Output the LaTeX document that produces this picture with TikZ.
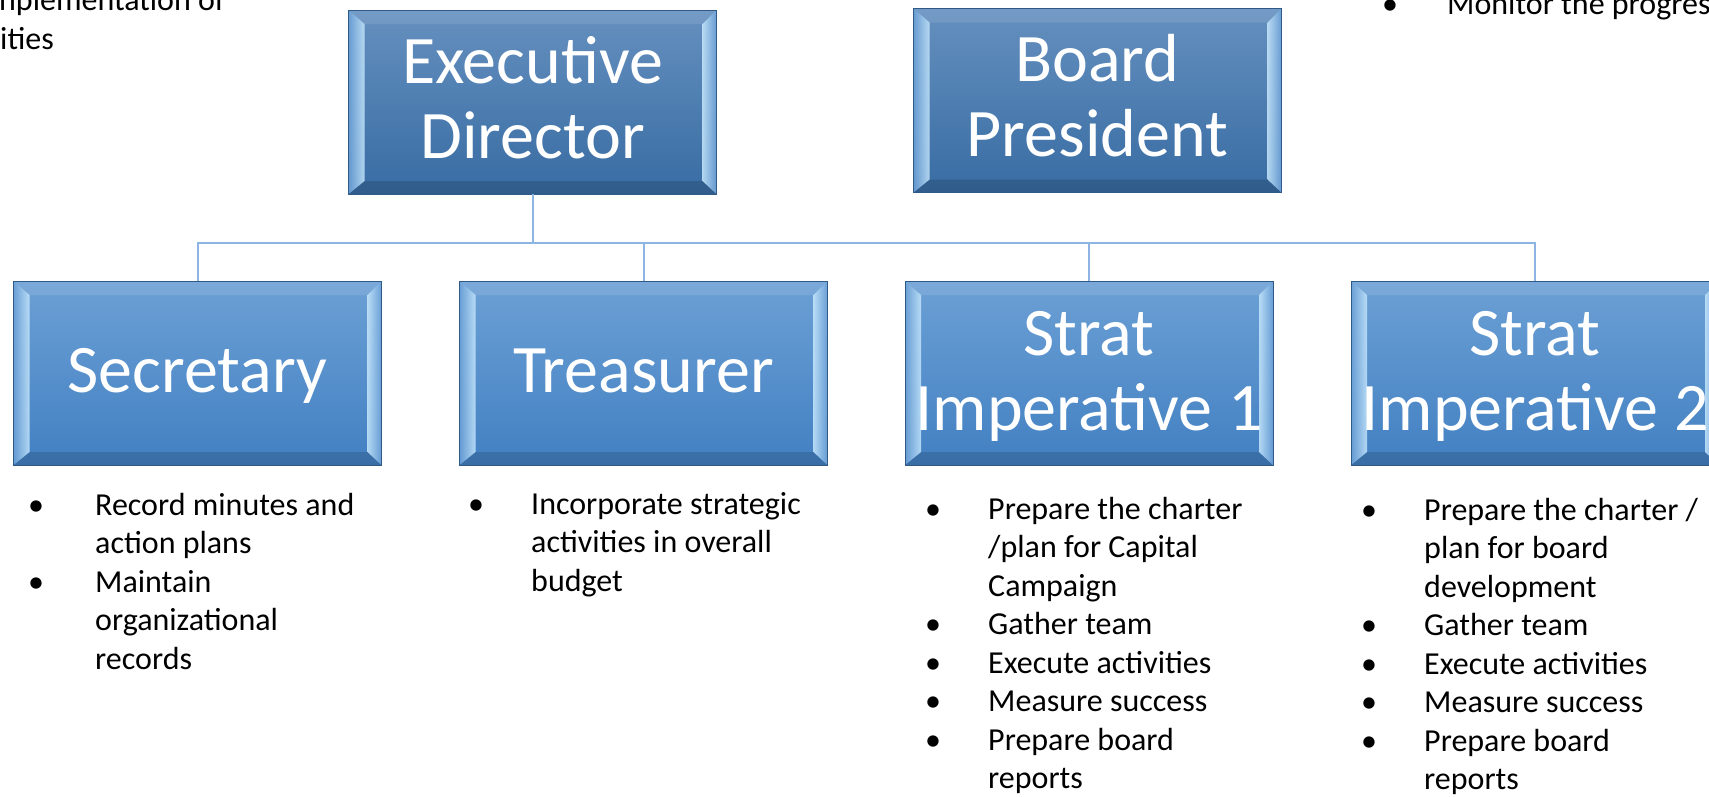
\documentclass[tikz,border=0pt]{standalone}
\usepackage{fontspec}
\setmainfont{Carlito}
\definecolor{lnk}{HTML}{8DB4E2}
\definecolor{edT}{HTML}{6590BF}
\definecolor{edB}{HTML}{386CA3}
\definecolor{rwT}{HTML}{6CA0D5}
\definecolor{rwB}{HTML}{4280C2}
\definecolor{bvOut}{HTML}{6A9FD6}
\definecolor{bvIn}{HTML}{C6E7FC}
\definecolor{bxEdge}{HTML}{2F5A86}
\tikzset{
  bevel/.style={rectangle, inner sep=0pt, minimum width=368pt, minimum height=184pt,
    draw=bxEdge, line width=0.8pt, align=center, text=white,
    font=\fontsize{68}{75}\selectfont, text depth=0pt,
    path picture={
      \fill[white, fill opacity=0.10] (path picture bounding box.north west) -- (path picture bounding box.north east)
        -- ([xshift=-14pt,yshift=-14pt]path picture bounding box.north east) -- ([xshift=16pt,yshift=-14pt]path picture bounding box.north west) -- cycle;
      \fill[black, fill opacity=0.14] (path picture bounding box.south west) -- (path picture bounding box.south east)
        -- ([xshift=-14pt,yshift=13pt]path picture bounding box.south east) -- ([xshift=16pt,yshift=13pt]path picture bounding box.south west) -- cycle;
      \shade[left color=bvOut, right color=bvIn, opacity=0.85] (path picture bounding box.north west) -- (path picture bounding box.south west)
        -- ([xshift=16pt,yshift=13pt]path picture bounding box.south west) -- ([xshift=16pt,yshift=-14pt]path picture bounding box.north west) -- cycle;
      \shade[left color=bvIn, right color=bvOut, opacity=0.85] (path picture bounding box.north east) -- (path picture bounding box.south east)
        -- ([xshift=-14pt,yshift=13pt]path picture bounding box.south east) -- ([xshift=-14pt,yshift=-14pt]path picture bounding box.north east) -- cycle;
    }},
  boxtop/.style={bevel, top color=edT, bottom color=edB, text height=112pt},
  boxrow/.style={bevel, top color=rwT, bottom color=rwB, text height=38pt},
  boxrow2/.style={boxrow, text height=114pt},
  conn/.style={draw=lnk, line width=2pt},
  btxt/.style={font=\fontsize{32}{38.5}\selectfont, align=left, inner sep=0pt, anchor=base west, text=black},
  bul/.style={font=\fontsize{32}{38.5}\selectfont, inner sep=0pt, anchor=base, text=black},
}
\begin{document}
\begin{tikzpicture}[x=1pt,y=-1pt]
\path[use as bounding box] (0,0) rectangle (1709,796);
\clip (0,0) rectangle (1709,796);
\fill[white] (0,0) rectangle (1709,796);

% top corner texts
\node[btxt, anchor=base east] (tl1) at (225,10) {nplementation of};
\node[btxt] (tl2) at (0,49) {ities};
\node[bul] (trb) at (1390,14) {•};
\node[btxt] (trt) at (1447,14) {Monitor the progres};

% boxes
\node[boxtop] (ed) at (532.5,102) {Executive\\Director};
\node[boxtop] (bp) at (1097.5,100.5) {Board\\President};
\node[boxrow] (sec) at (197.5,373) {Secretary};
\node[boxrow] (tre) at (643.5,373) {Treasurer};
\node[boxrow2] (s1) at (1089,373) {Strat\\Imperative 1};
\node[boxrow2] (s2) at (1535,373) {Strat\\Imperative 2};

% connectors
\draw[conn] (ed.south) -- ++(0,49) coordinate (hub);
\draw[conn] (hub) -| (sec.north);
\draw[conn] (hub) -| (tre.north);
\draw[conn] (hub) -| (s1.north);
\draw[conn] (hub) -| (s2.north);

% (multi-line nodes are placed by the baseline of their last line)
% Secretary list
\node[bul] (sb1) at (36,515) {•};
\node[btxt] (st1) at (95,553.5) {Record minutes and\\action plans};
\node[bul] (sb2) at (36,592) {•};
\node[btxt] (st2) at (95,669) {Maintain\\organizational\\records};

% Treasurer list
\node[bul] (tb1) at (476,514) {•};
\node[btxt] (tt1) at (531,591) {Incorporate strategic\\activities in overall\\budget};

% Strat 1 list
\node[bul] (ab1) at (933,519) {•};
\node[btxt] (at1) at (988,596) {Prepare the charter\\/plan for Capital\\Campaign};
\node[bul] (ab2) at (933,634.5) {•};
\node[btxt] (at2) at (988,634.5) {Gather team};
\node[bul] (ab3) at (933,673) {•};
\node[btxt] (at3) at (988,673) {Execute activities};
\node[bul] (ab4) at (933,711.5) {•};
\node[btxt] (at4) at (988,711.5) {Measure success};
\node[bul] (ab5) at (933,750) {•};
\node[btxt] (at5) at (988,788.5) {Prepare board\\reports};

% Strat 2 list
\node[bul] (bb1) at (1369,520) {•};
\node[btxt] (bt1) at (1424,597) {Prepare the charter /\\plan for board\\development};
\node[bul] (bb2) at (1369,635.5) {•};
\node[btxt] (bt2) at (1424,635.5) {Gather team};
\node[bul] (bb3) at (1369,674) {•};
\node[btxt] (bt3) at (1424,674) {Execute activities};
\node[bul] (bb4) at (1369,712.5) {•};
\node[btxt] (bt4) at (1424,712.5) {Measure success};
\node[bul] (bb5) at (1369,751) {•};
\node[btxt] (bt5) at (1424,789.5) {Prepare board\\reports};
\end{tikzpicture}
\end{document}
